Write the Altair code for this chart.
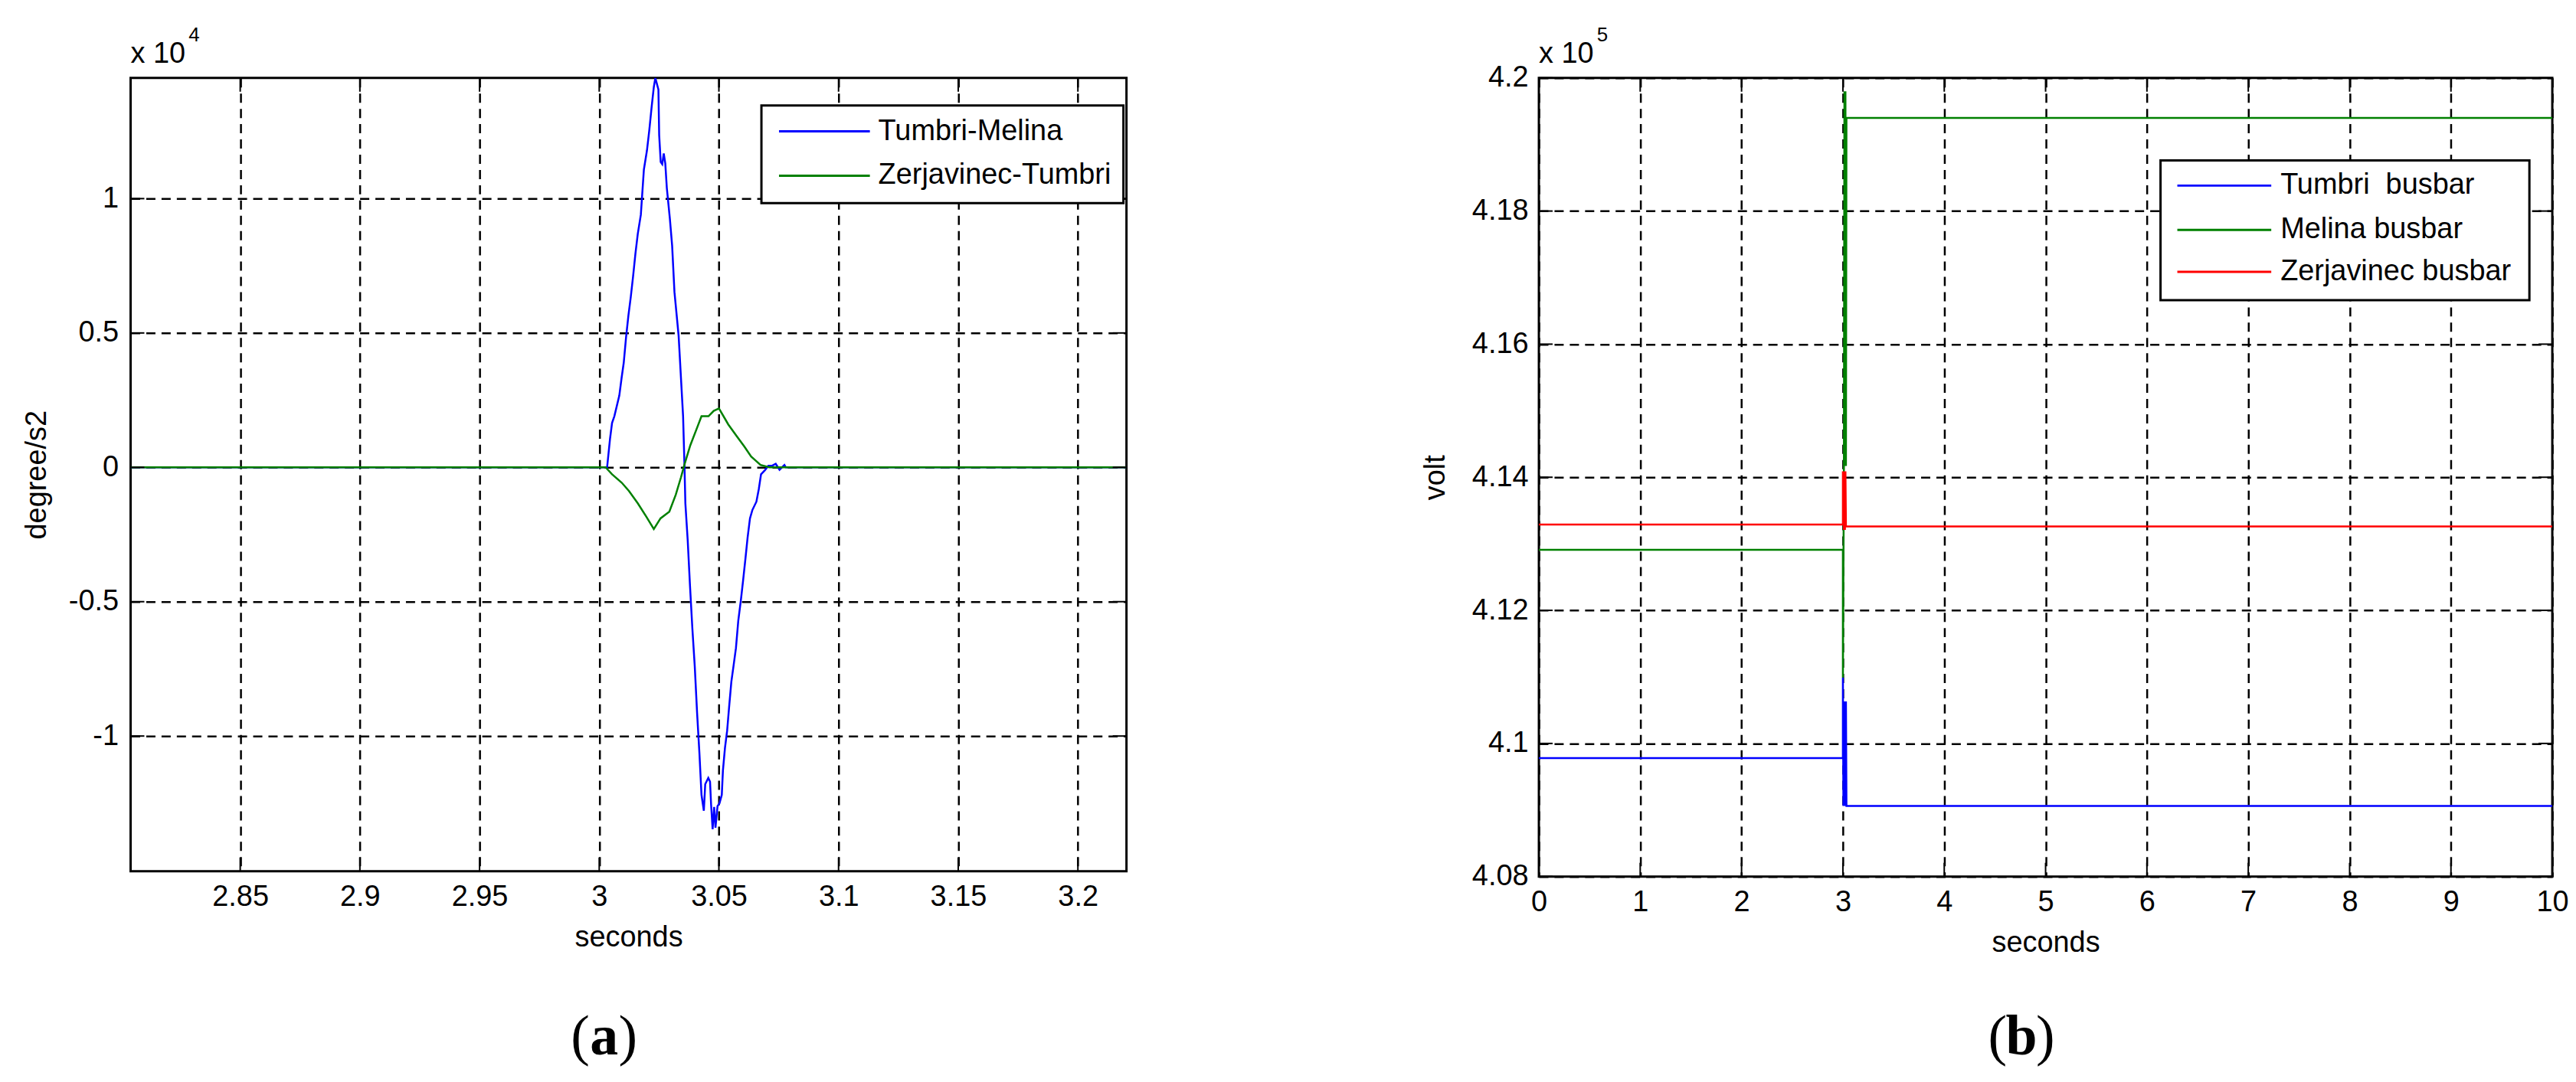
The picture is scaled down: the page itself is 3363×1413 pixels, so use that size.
import altair as alt
import pandas as pd

# ---------------- panel (a): degree/s2 ----------------
a_names = ["Tumbri-Melina", "Zerjavinec-Tumbri"]
a_colors = ["#0000ff", "#008000"]
a_x_ticks = [2.85, 2.9, 2.95, 3.0, 3.05, 3.1, 3.15, 3.2]
a_y_ticks = [-10000, -5000, 0, 5000, 10000]
a_x_domain = [2.8042, 3.2203]
a_y_domain = [-15030, 14490]

tm_t = [2.8042, 3.00329, 3.0045, 3.00536, 3.00632, 3.00839, 3.00938, 3.01024, 3.0112, 3.01219,
        3.01318, 3.01414, 3.01512, 3.01611, 3.01739, 3.01866, 3.01994, 3.0209, 3.02186, 3.02281,
        3.02345, 3.02473, 3.02505, 3.02569, 3.02633, 3.02696, 3.0276, 3.02824, 3.02951, 3.03047,
        3.03143, 3.03318, 3.03405, 3.03504, 3.03564, 3.03599, 3.03698, 3.03794, 3.03893, 3.03992,
        3.04088, 3.04187, 3.04273, 3.04371, 3.04429, 3.04557, 3.0463, 3.04675, 3.04738, 3.04802,
        3.04857, 3.04943, 3.05026, 3.05121, 3.05169, 3.05255, 3.05345, 3.05424, 3.0552, 3.05616,
        3.05712, 3.0581, 3.05919, 3.06005, 3.06104, 3.062, 3.06299, 3.06398, 3.06567, 3.06666,
        3.06761, 3.06921, 3.07068, 3.07227, 3.07374, 3.07534, 3.07738, 3.078, 3.2203]
tm_v = [0, 0, 1050, 1650, 1900, 2670, 3350, 3890, 4830, 5650,
        6340, 7100, 7950, 8690, 9400, 11080, 11790, 12530, 13380, 14150,
        14490, 14060, 12360, 11360, 11280, 11680, 11310, 10400, 9260, 8240,
        6530, 4890, 3490, 1900, 0, -1340, -2730, -4430, -6020, -7410,
        -9120, -10650, -12190, -12780, -11790, -11560, -11700, -12560, -13470, -12640,
        -13410, -12610, -12500, -12190, -11280, -10430, -9800, -8950, -7980, -7360,
        -6730, -5710, -4940, -4260, -3440, -2610, -1900, -1590, -1280, -820,
        -260, -110, 60, 60, 130, -90, 90, 0, 0]

zt_t = [2.8042, 3.00265, 3.00536, 3.00938, 3.01244, 3.01611, 3.01975, 3.02281, 3.02562, 3.02929,
        3.03197, 3.03417, 3.03564, 3.03806, 3.04113, 3.04273, 3.04566, 3.04783, 3.05003, 3.05396,
        3.0576, 3.06066, 3.06347, 3.06739, 3.071, 3.2203]
zt_v = [0, 0, -260, -570, -880, -1340, -1850, -2300, -1900, -1650,
        -1020, -370, 110, 820, 1530, 1900, 1900, 2100, 2190, 1590,
        1140, 770, 400, 90, 0, 0]

# ---------------- panel (b): volt ----------------
b_names = ["Tumbri  busbar", "Melina busbar", "Zerjavinec busbar"]
b_colors = ["#0000ff", "#008000", "#ff0000"]
b_x_ticks = [0, 1, 2, 3, 4, 5, 6, 7, 8, 9, 10]
b_y_ticks = [408000, 410000, 412000, 414000, 416000, 418000, 420000]
b_x_domain = [0, 10]
b_y_domain = [408000, 420000]

tb_t = [0, 3.0, 3.0, 3.005, 3.01, 3.015, 3.02, 3.025, 3.03, 3.035, 10]
tb_v = [409780, 409780, 410990, 409060, 410630, 409060, 410630, 409060, 410630, 409060, 409060]
mb_t = [0, 3.0, 3.0, 3.01, 3.015, 3.02, 3.025, 3.03, 3.035, 10]
mb_v = [412910, 412910, 410990, 414170, 419800, 414170, 419800, 414170, 419400, 419400]
zb_t = [0, 3.0, 3.0, 3.01, 3.015, 3.02, 3.025, 3.03, 10]
zb_v = [413290, 413290, 414090, 413210, 414090, 413210, 414090, 413260, 413260]

FONT = "Liberation Sans"
FS = 38
one = pd.DataFrame({"n": [0]})


def frame(names, ts, vs):
    rows = []
    for name, t, v in zip(names, ts, vs):
        for i, (a, b) in enumerate(zip(t, v)):
            rows.append({"series": name, "t": a, "v": b, "i": i})
    return pd.DataFrame(rows)


def panel(df, names, colors, xdom, ydom, xticks, yticks, ylabel_expr, ytitle,
          W, H, box, rows_y, line_x, text_x, exponent, letter, cap_x, ytpad, ylpad):
    xs = alt.Scale(domain=xdom, nice=False, zero=False)
    ys = alt.Scale(domain=ydom, nice=False, zero=False)
    xax = alt.Axis(values=xticks, labelExpr="format(datum.value, '')", title="seconds",
                   labelFlush=False, labelPadding=15, titlePadding=15, labelOverlap=False)
    yax = alt.Axis(values=yticks, labelExpr=ylabel_expr, title=ytitle,
                   labelPadding=ylpad, titlePadding=ytpad, labelOverlap=False)
    X = alt.X("t:Q", scale=xs, axis=xax)
    Y = alt.Y("v:Q", scale=ys, axis=yax)

    layers = []
    layers.append(alt.Chart(df).mark_line(strokeWidth=2.5, clip=True).encode(
        x=X, y=Y,
        color=alt.Color("series:N", scale=alt.Scale(domain=names, range=colors), legend=None),
        order=alt.Order("i:Q"),
    ))
    # inward tick marks on all four sides
    xt = pd.DataFrame({"t": xticks})
    yt = pd.DataFrame({"v": yticks})
    TL = 18
    layers.append(alt.Chart(xt).mark_rule(color="black", strokeWidth=2).encode(
        x=X, y=alt.value(0), y2=alt.value(TL)))
    layers.append(alt.Chart(xt).mark_rule(color="black", strokeWidth=2).encode(
        x=X, y=alt.value(H - TL), y2=alt.value(H)))
    layers.append(alt.Chart(yt).mark_rule(color="black", strokeWidth=2).encode(
        y=Y, x=alt.value(0), x2=alt.value(TL)))
    layers.append(alt.Chart(yt).mark_rule(color="black", strokeWidth=2).encode(
        y=Y, x=alt.value(W - TL), x2=alt.value(W)))

    # legend box
    layers.append(alt.Chart(one).mark_rect(fill="white", stroke="black", strokeWidth=3).encode(
        x=alt.value(box[0]), x2=alt.value(box[1]), y=alt.value(box[2]), y2=alt.value(box[3])))
    for name, c, ry in zip(names, colors, rows_y):
        layers.append(alt.Chart(one).mark_rule(color=c, strokeWidth=3).encode(
            x=alt.value(line_x[0]), x2=alt.value(line_x[1]), y=alt.value(ry)))
        layers.append(alt.Chart(one).mark_text(
            align="left", baseline="middle", font=FONT, fontSize=FS, color="black",
            text=name.replace("  ", "\u00a0 ")).encode(x=alt.value(text_x), y=alt.value(ry)))

    # "x 10^n" multiplier
    layers.append(alt.Chart(one).mark_text(
        align="left", baseline="alphabetic", font=FONT, fontSize=FS, color="black",
        text="x 10").encode(x=alt.value(0), y=alt.value(-20)))
    layers.append(alt.Chart(one).mark_text(
        align="left", baseline="alphabetic", font=FONT, fontSize=26, color="black",
        text=exponent).encode(x=alt.value(76), y=alt.value(-48)))

    # caption (a)/(b)
    cap_y = 1279
    half = 19
    layers.append(alt.Chart(one).mark_text(
        align="right", baseline="alphabetic", font="Liberation Serif", fontSize=74,
        color="black", text="(").encode(x=alt.value(cap_x - half), y=alt.value(cap_y)))
    layers.append(alt.Chart(one).mark_text(
        align="center", baseline="alphabetic", font="Liberation Serif", fontSize=74,
        fontWeight="bold", color="black", text=letter).encode(x=alt.value(cap_x), y=alt.value(cap_y)))
    layers.append(alt.Chart(one).mark_text(
        align="left", baseline="alphabetic", font="Liberation Serif", fontSize=74,
        color="black", text=")").encode(x=alt.value(cap_x + half), y=alt.value(cap_y)))

    return alt.layer(*layers).properties(width=W, height=H)


left = panel(
    frame(a_names, [tm_t, zt_t], [tm_v, zt_v]), a_names, a_colors,
    a_x_domain, a_y_domain, a_x_ticks, a_y_ticks,
    "(datum.value < 0 ? '-' : '') + format(abs(datum.value) / 10000, '')", "degree/s2",
    1304, 1039, box=(826, 1300, 36, 164), rows_y=(70, 128), line_x=(849, 968), text_x=979,
    exponent="4", letter="a", cap_x=620, ytpad=22, ylpad=16)

right = panel(
    frame(b_names, [tb_t, mb_t, zb_t], [tb_v, mb_v, zb_v]), b_names, b_colors,
    b_x_domain, b_y_domain, b_x_ticks, b_y_ticks,
    "format(datum.value / 100000, '')", "volt",
    1327, 1046, box=(814, 1297, 108, 291), rows_y=(141, 199, 254), line_x=(836, 959), text_x=971,
    exponent="5", letter="b", cap_x=632, ytpad=28, ylpad=14)

chart = alt.hconcat(left, right, spacing=381).resolve_scale(
    color="independent"
).properties(
    padding={"left": 20, "top": 21, "right": 0, "bottom": 4}
).configure_axis(
    labelFont=FONT, labelFontSize=FS, labelColor="black",
    titleFont=FONT, titleFontSize=FS, titleFontWeight="normal", titleColor="black",
    grid=True, gridColor="black", gridDash=[12, 8], gridWidth=2.5, gridOpacity=1,
    domain=False, ticks=False, tickSize=0,
).configure_view(stroke="black", strokeWidth=3)

chart.save("out.html", embed_options={"renderer": "svg", "actions": False})
